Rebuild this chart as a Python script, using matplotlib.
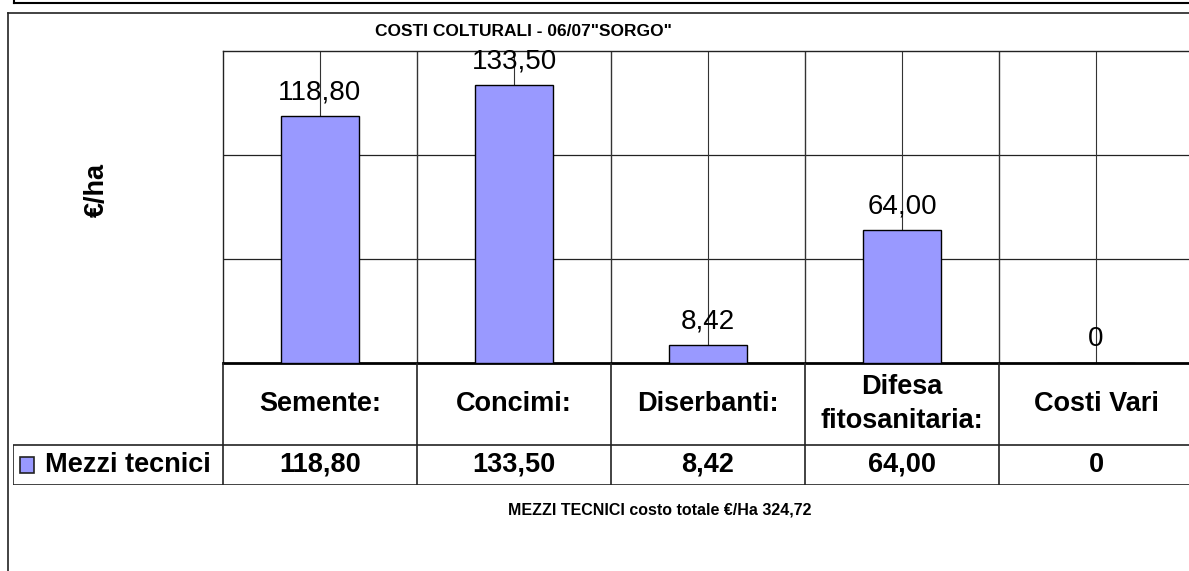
import matplotlib.pyplot as plt
import numpy as np
from matplotlib.lines import Line2D
from matplotlib.patches import Rectangle

plt.rcParams['font.family'] = ['Liberation Sans', 'DejaVu Sans']

# data
categories = ['Semente:', 'Concimi:', 'Diserbanti:', 'Difesa\nfitosanitaria:', 'Costi Vari']
values = np.array([118.80, 133.50, 8.42, 64.00, 0])
series_name = 'Mezzi tecnici'
title = 'COSTI COLTURALI - 06/07"SORGO"'
ylabel = '€/ha'
footer = 'MEZZI TECNICI costo totale €/Ha 324,72'
bar_color = '#9999FF'


def fmt(v):
    return f'{v:.2f}'.replace('.', ',') if v != 0 else '0'


W, H = 1189, 571
fig = plt.figure(figsize=(W / 100, H / 100), dpi=100)

# frames around the chart (pixel coords -> figure fraction)
def fline(xs, ys, lw=1.2, color='#222222'):
    fig.add_artist(Line2D([x / W for x in xs], [1 - y / H for y in ys],
                          lw=lw, color=color, transform=fig.transFigure))

fline([14, W], [3, 3], lw=1.5, color='black')
fline([14, 14], [0, 3], lw=1.5, color='black')
fline([8, W], [13, 13], lw=1.2)
fline([8, 8], [13, H], lw=1.2)

# bar plot area
x = np.arange(len(categories))
ax = fig.add_axes([223 / W, (H - 363) / H, 970 / W, 312 / H])
ax.bar(x, values, width=0.4, color=bar_color, edgecolor='black', lw=1, zorder=3)
ax.set_xlim(-0.5, 4.5)
ax.set_ylim(0, 150)
ax.set_xticks([])
ax.set_yticks([])
for y in [50, 100]:
    ax.axhline(y, color='#222222', lw=0.9, zorder=1)
ax.vlines(x, 0, 150, color='#333333', lw=0.8, zorder=1)
ax.vlines(x[:-1] + 0.5, 0, 150, color='#333333', lw=1.0, zorder=1)
for s in ['top', 'left']:
    ax.spines[s].set_linewidth(1.0)
    ax.spines[s].set_color('#222222')
ax.spines['right'].set_visible(False)
ax.spines['bottom'].set_linewidth(2.0)

for xi, v in zip(x, values):
    ax.annotate(fmt(v), (xi, v), xytext=(0, 12), textcoords='offset points',
                ha='center', va='baseline', fontsize=20, zorder=4)

# data table under the plot
left = -0.5 - 210 / 194
tab = fig.add_axes([13 / W, (H - 485) / H, (1193 - 13) / W, 122 / H])
tab.set_xlim(left, 4.5)
tab.set_ylim(0, 122)
tab.axis('off')
tab.hlines([0, 40], left, 4.5, color='#222222', lw=1.2)
tab.vlines(left, 0, 40, color='#222222', lw=1.2)
tab.vlines(np.arange(-0.5, 4.0, 1.0), 0, 122, color='#222222', lw=1.2)
for xi, c, v in zip(x, categories, values):
    tab.text(xi, 81, c, ha='center', va='center', fontsize=19.5,
             fontweight='bold', linespacing=1.4)
    tab.text(xi, 20, fmt(v), ha='center', va='center', fontsize=19.5,
             fontweight='bold')
tab.add_patch(Rectangle((-0.5 + (20 - 223) / 194, 12), 14 / 194, 16,
                        facecolor=bar_color, edgecolor='#222222', lw=1.2))
tab.text(-0.5 + (45 - 223) / 194, 20, series_name, ha='left', va='center',
         fontsize=19.5, fontweight='bold')

# texts
fig.text(523 / W, 1 - 32 / H, title, ha='center', va='center',
         fontsize=12.5, fontweight='bold')
fig.text(97 / W, 1 - 190 / H, ylabel, ha='center', va='center', rotation=90,
         fontsize=19.5, fontweight='bold')
fig.text(660 / W, 1 - 510 / H, footer, ha='center', va='center',
         fontsize=11.5, fontweight='bold')

fig.savefig('out.png', dpi=100)
